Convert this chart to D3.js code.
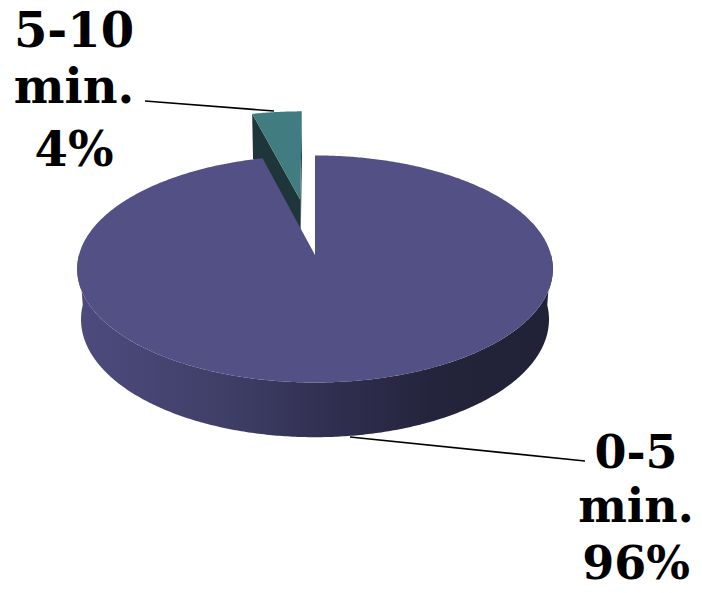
<!DOCTYPE html>
<html>
<head>
<meta charset="utf-8">
<script src="https://cdn.jsdelivr.net/npm/d3@7"></script>
<style>
  html, body { margin: 0; padding: 0; background: #fff; }
  svg { display: block; }
  .lbl { font-family: "DejaVu Serif", "Liberation Serif", serif; font-weight: bold; fill: #000; }
</style>
</head>
<body>
<svg id="chart" width="702" height="593"></svg>
<script>
// Time-to-complete shares
const categories = ["0-5 min.", "5-10 min."];
const values = [96, 4];
const percentLabels = ["96%", "4%"];
const labelLines = [["0-5", "min.", "96%"], ["5-10", "min.", "4%"]];
const topColors = ["#525085", "#417c80"];
const faceColors = ["#2a2944", "#1e3639"];
const explode = [0, 0.53];

const W = 702, H = 593;
const svg = d3.select("#chart");

// Perspective camera for the 3D disc (unit radius, top face at y = 0)
const cam = { cx: 315, cy: 255, f: 1690, D: 7.16, tilt: Math.asin(0.4737) };
const depth = 0.245;
const cosT = Math.cos(cam.tilt), sinT = Math.sin(cam.tilt);

function project(x, y, z) {
  const up = y * cosT - z * sinT;
  const d = y * sinT + z * cosT;
  const k = cam.f / (cam.D - d);
  return [cam.cx + x * k, cam.cy - up * k];
}

// d3.pie angle (clockwise from 12 o'clock, 12 o'clock = far side) -> disc coordinates
const disc = (a, r = 1) => [Math.sin(a) * r, -Math.cos(a) * r];

const pie = d3.pie().sort(null).value(d => d.v);
const arcs = pie(categories.map((c, i) => ({ c, v: values[i], i })));

const line = d3.line();
const steps = a => Math.max(8, Math.ceil(Math.abs(a) / 0.01));

function offsetOf(s) {
  const mid = (s.startAngle + s.endAngle) / 2;
  return disc(mid, explode[s.data.i]);
}

function arcPoints(s, y, from, to) {
  const [ox, oz] = offsetOf(s);
  const n = steps(to - from);
  return d3.range(n + 1).map(j => {
    const a = from + (to - from) * j / n;
    const [x, z] = disc(a);
    return project(x + ox, y, z + oz);
  });
}

function topFace(s) {
  const [ox, oz] = offsetOf(s);
  const pts = [project(ox, 0, oz), ...arcPoints(s, 0, s.startAngle, s.endAngle)];
  return line(pts) + "Z";
}

function radialFace(s, a) {
  const [ox, oz] = offsetOf(s);
  const [x, z] = disc(a);
  const pts = [
    project(ox, 0, oz), project(x + ox, 0, z + oz),
    project(x + ox, -depth, z + oz), project(ox, -depth, oz)
  ];
  return line(pts) + "Z";
}

function sideWall(s) {
  // outer wall on the near half of the disc only
  const from = Math.max(s.startAngle, Math.PI / 2);
  const to = Math.min(s.endAngle, Math.PI * 1.5);
  if (to <= from) return null;
  const topPts = arcPoints(s, 0, from, to);
  const botPts = arcPoints(s, -depth, from, to).reverse();
  return line(topPts.concat(botPts)) + "Z";
}

// Gradient for the rim of the large slice
const defs = svg.append("defs");
const grad = defs.append("linearGradient")
  .attr("id", "rim").attr("gradientUnits", "userSpaceOnUse")
  .attr("x1", 78).attr("y1", 0).attr("x2", 552).attr("y2", 0);
[[0, "#4d4b7e"], [0.3, "#403f68"], [0.55, "#2f2e4f"], [0.75, "#24243c"], [1, "#202036"]]
  .forEach(([o, c]) => grad.append("stop").attr("offset", o).attr("stop-color", c));

const g = svg.append("g");

// small exploded slice (far side) first
const small = arcs[1], big = arcs[0];
g.append("path").attr("d", radialFace(small, small.endAngle)).attr("fill", faceColors[1]);
g.append("path").attr("d", radialFace(small, small.startAngle)).attr("fill", faceColors[1]);
g.append("path").attr("d", topFace(small)).attr("fill", topColors[1]);

// large slice
const wall = sideWall(big);
if (wall) g.append("path").attr("d", wall).attr("fill", "url(#rim)");
g.append("path").attr("d", topFace(big)).attr("fill", topColors[0]);

// Leader lines
const leaders = [
  { from: [350, 437], to: [585, 461] },
  { from: [145, 101], to: [274, 111] }
];
leaders.forEach(l => {
  g.append("path").attr("d", line([l.from, l.to]))
    .attr("stroke", "#000").attr("stroke-width", 1.6).attr("fill", "none");
});

// Labels
const labelPos = [
  { x: 636, y: [468, 522, 579], size: 46 },
  { x: 74, y: [47, 103, 166], size: 48 }
];
labelLines.forEach((ls, i) => {
  const p = labelPos[i];
  ls.forEach((t, j) => {
    svg.append("text").attr("class", "lbl")
      .attr("x", p.x).attr("y", p.y[j])
      .attr("text-anchor", "middle")
      .style("font-size", p.size + "px")
      .text(t);
  });
});
</script>
</body>
</html>
